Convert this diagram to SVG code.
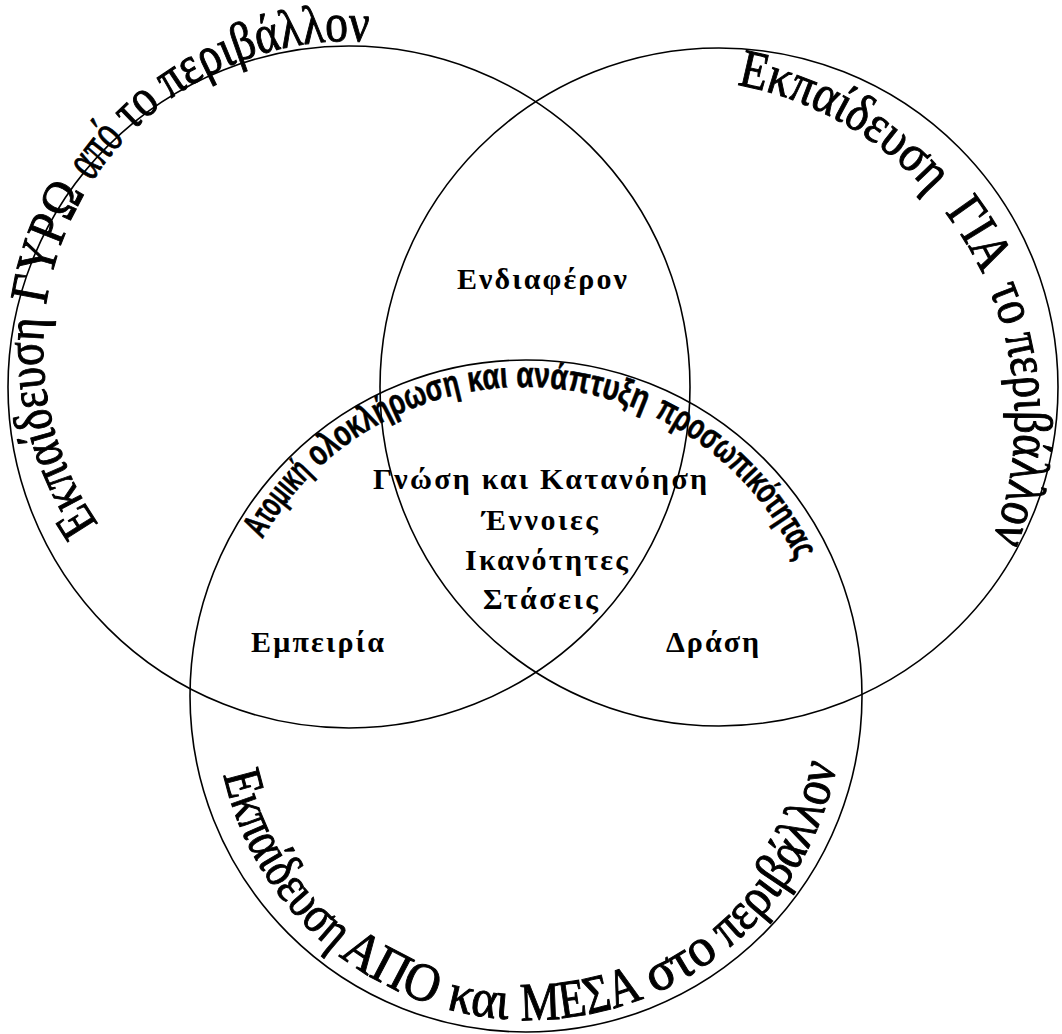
<svg xmlns="http://www.w3.org/2000/svg" width="1062" height="1034" viewBox="0 0 1062 1034">
<style>
.ring{fill:none;stroke:#000;stroke-width:1.6}
.lbl{font-family:"Liberation Serif","Times New Roman",serif;font-weight:bold;font-size:30px;fill:#000}
.arc{font-family:"Liberation Serif","Times New Roman",serif;font-size:54px;fill:#000;stroke:#000;stroke-width:1}
.inner{font-family:"Liberation Sans",Arial,sans-serif;font-weight:bold;font-size:36px;fill:#000;stroke:#000;stroke-width:0.6}
</style>
<defs>
<path id="pA" d="M114.8,545.3 A307,307 0 0 1 403.3,45.7"/>
<path id="pB" d="M704.6,80.3 A340,340 0 0 1 969.4,589"/>
<path id="pC" d="M217.2,734.3 A313,313 0 0 0 840.8,734.3"/>
<path id="pI" d="M251.2,560.8 A301,301 0 0 1 806.9,585.1"/>
</defs>
<rect width="1062" height="1034" fill="#fff"/>
<g id="circle-around">
<circle class="ring" cx="349" cy="387" r="341"/>
<text class="arc"><textPath href="#pA" startOffset="26.8" textLength="217" lengthAdjust="spacingAndGlyphs">Εκπαίδευση</textPath><textPath href="#pA" startOffset="257.2" textLength="120" lengthAdjust="spacingAndGlyphs">ΓΥΡΩ</textPath><textPath href="#pA" startOffset="390" textLength="54" lengthAdjust="spacingAndGlyphs">από</textPath><textPath href="#pA" startOffset="453.5" textLength="40" lengthAdjust="spacingAndGlyphs">το</textPath><textPath href="#pA" startOffset="503.7" textLength="211.6" lengthAdjust="spacingAndGlyphs">περιβάλλον</textPath></text>
</g>
<g id="circle-for">
<circle class="ring" cx="719" cy="387" r="339"/>
<text class="arc"><textPath href="#pB" startOffset="32.6" textLength="225.5" lengthAdjust="spacingAndGlyphs">Εκπαίδευση</textPath><textPath href="#pB" startOffset="282" textLength="73" lengthAdjust="spacingAndGlyphs">ΓΙΑ</textPath><textPath href="#pB" startOffset="371" textLength="40" lengthAdjust="spacingAndGlyphs">το</textPath><textPath href="#pB" startOffset="421" textLength="206.5" lengthAdjust="spacingAndGlyphs">περιβάλλον</textPath></text>
</g>
<g id="circle-from-in">
<circle class="ring" cx="526" cy="696" r="336"/>
<text class="arc"><textPath href="#pC" startOffset="41" textLength="212" lengthAdjust="spacingAndGlyphs">Εκπαίδευση</textPath><textPath href="#pC" startOffset="259.5" textLength="107" lengthAdjust="spacingAndGlyphs">ΑΠΟ</textPath><textPath href="#pC" startOffset="380" textLength="63" lengthAdjust="spacingAndGlyphs">και</textPath><textPath href="#pC" startOffset="456" textLength="126" lengthAdjust="spacingAndGlyphs">ΜΕΣΑ</textPath><textPath href="#pC" startOffset="593" textLength="76" lengthAdjust="spacingAndGlyphs">στο</textPath><textPath href="#pC" startOffset="680" textLength="217" lengthAdjust="spacingAndGlyphs">περιβάλλον</textPath></text>
<text class="inner"><textPath href="#pI" startOffset="24.2" textLength="83.5" lengthAdjust="spacingAndGlyphs">Ατομική</textPath><textPath href="#pI" startOffset="115.6" textLength="162.8" lengthAdjust="spacingAndGlyphs">ολοκλήρωση</textPath><textPath href="#pI" startOffset="286.3" textLength="39.4" lengthAdjust="spacingAndGlyphs">και</textPath><textPath href="#pI" startOffset="333.6" textLength="131.3" lengthAdjust="spacingAndGlyphs">ανάπτυξη</textPath><textPath href="#pI" startOffset="475.4" textLength="207.5" lengthAdjust="spacingAndGlyphs">προσωπικότητας</textPath></text>
</g>
<g id="labels">
<text class="lbl" x="457" y="289" textLength="170" lengthAdjust="spacing">Ενδιαφέρον</text>
<text class="lbl" x="373" y="489" textLength="334" lengthAdjust="spacing">Γνώση και Κατανόηση</text>
<text class="lbl" x="482" y="530" textLength="116" lengthAdjust="spacing">Έννοιες</text>
<text class="lbl" x="465" y="570" textLength="163" lengthAdjust="spacing">Ικανότητες</text>
<text class="lbl" x="483" y="609" textLength="115" lengthAdjust="spacing">Στάσεις</text>
<text class="lbl" x="251" y="652" textLength="133" lengthAdjust="spacing">Εμπειρία</text>
<text class="lbl" x="666" y="652" textLength="93" lengthAdjust="spacing">Δράση</text>
</g>
</svg>
